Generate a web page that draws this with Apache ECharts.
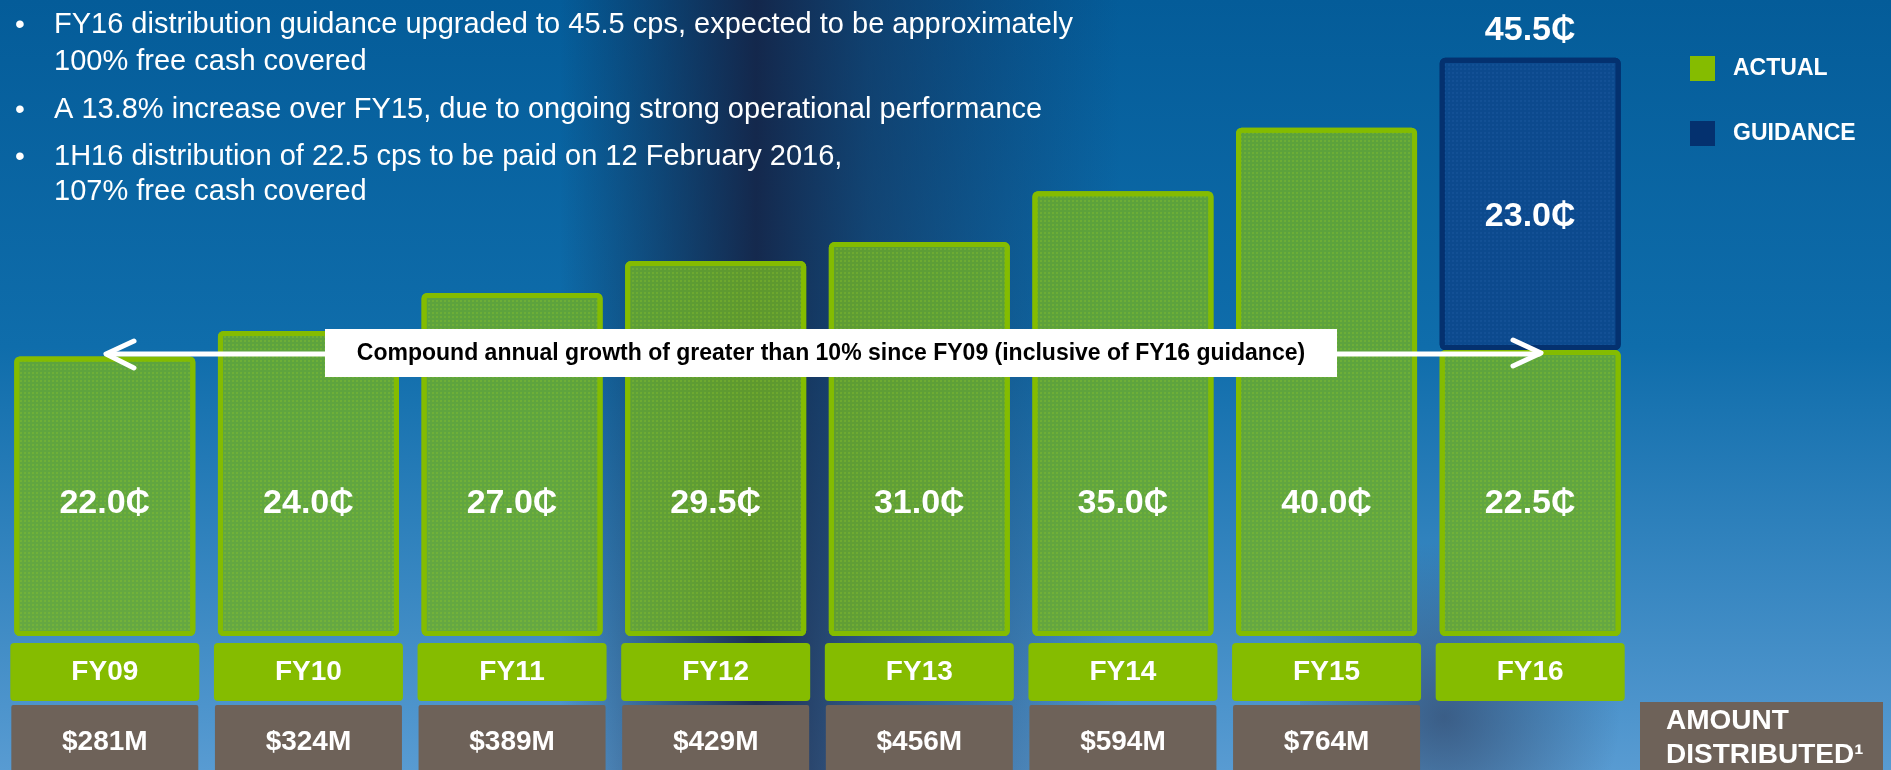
<!DOCTYPE html>
<html>
<head>
<meta charset="utf-8">
<script src="https://cdn.jsdelivr.net/npm/echarts@6/dist/echarts.min.js"></script>
<style>
    html, body { margin: 0; padding: 0; }
    #main { width: 1891px; height: 770px; }
</style>
</head>
<body>
<div id="main"></div>
<script>
    // 数据
    var categories = ['FY09', 'FY10', 'FY11', 'FY12', 'FY13', 'FY14', 'FY15', 'FY16'];
    var amounts = ['$281M', '$324M', '$389M', '$429M', '$456M', '$594M', '$764M', ''];
    var actual = [22.0, 24.0, 27.0, 29.5, 31.0, 35.0, 40.0, 22.5];
    var guidance = [null, null, null, null, null, null, null, 23.0];
    var totals = [null, null, null, null, null, null, null, 45.5];
    var bullets = [
        ['FY16 distribution guidance upgraded to 45.5 cps, expected to be approximately', '100% free cash covered'],
        ['A 13.8% increase over FY15, due to ongoing strong operational performance'],
        ['1H16 distribution of 22.5 cps to be paid on 12 February 2016,', '107% free cash covered']
    ];
    var cagrText = 'Compound annual growth of greater than 10% since FY09 (inclusive of FY16 guidance)';

    var font = "'Liberation Sans', Arial, sans-serif";
    var cents = function (v) {
        return v.toFixed(1) + '\u20B5';
    };

    var graphics = [];
    // 背景
    graphics.push({
        type: 'rect', z: -10, silent: true,
        shape: {x: 560, y: 0, width: 560, height: 770},
        style: {
            fill: new echarts.graphic.LinearGradient(0, 0, 1, 0, [
                {offset: 0, color: 'rgba(20,30,60,0)'},
                {offset: 0.35, color: 'rgba(22,30,62,0.85)'},
                {offset: 0.55, color: 'rgba(24,40,75,0.55)'},
                {offset: 1, color: 'rgba(20,40,80,0)'}
            ])
        }
    });
    graphics.push({
        type: 'rect', z: -10, silent: true,
        shape: {x: 1300, y: 420, width: 320, height: 350},
        style: {
            fill: new echarts.graphic.RadialGradient(0.45, 0.85, 0.55, [
                {offset: 0, color: 'rgba(50,70,105,0.7)'},
                {offset: 1, color: 'rgba(50,70,105,0)'}
            ])
        }
    });

    // 左上角要点
    var lineY = [[25, 62], [110], [157, 192]];
    var i, j;
    for (i = 0; i < bullets.length; i++) {
        graphics.push({
            type: 'text', z: 50, silent: true,
            style: {
                x: 20, y: lineY[i][0], text: '\u2022', fill: '#fff',
                font: '28px ' + font, align: 'center', verticalAlign: 'middle'
            }
        });
        for (j = 0; j < bullets[i].length; j++) {
            graphics.push({
                type: 'text', z: 50, silent: true,
                style: {
                    x: 54, y: lineY[i][j], text: bullets[i][j], fill: '#fff',
                    font: '29px ' + font, verticalAlign: 'middle'
                }
            });
        }
    }

    // 复合增长箭头
    var arrowStyle = {stroke: '#fff', lineWidth: 5, lineCap: 'round', lineJoin: 'round'};
    graphics.push({type: 'line', z: 60, silent: true, shape: {x1: 108, y1: 354, x2: 1539, y2: 354}, style: arrowStyle});
    graphics.push({type: 'polyline', z: 60, silent: true, shape: {points: [[134, 341], [106, 354], [134, 368]]}, style: arrowStyle});
    graphics.push({type: 'polyline', z: 60, silent: true, shape: {points: [[1513, 340], [1541, 353], [1513, 366]]}, style: arrowStyle});
    graphics.push({type: 'rect', z: 61, silent: true, shape: {x: 325, y: 329, width: 1012, height: 48}, style: {fill: '#fff'}});
    graphics.push({
        type: 'text', z: 62, silent: true,
        style: {
            x: 831, y: 354, text: cagrText, fill: '#000',
            font: 'bold 23px ' + font, align: 'center', verticalAlign: 'middle'
        }
    });

    // 分配金额说明框
    graphics.push({type: 'rect', z: 5, silent: true, shape: {x: 1640, y: 702, width: 243, height: 70}, style: {fill: '#6e6259'}});
    graphics.push({
        type: 'text', z: 6, silent: true,
        style: {x: 1666, y: 721, text: 'AMOUNT', fill: '#fff', font: 'bold 28px ' + font, verticalAlign: 'middle'}
    });
    graphics.push({
        type: 'text', z: 6, silent: true,
        style: {x: 1666, y: 755, text: 'DISTRIBUTED\u00B9', fill: '#fff', font: 'bold 28px ' + font, verticalAlign: 'middle'}
    });

    var myChart = echarts.init(document.getElementById('main'));
    var option = {
        backgroundColor: new echarts.graphic.LinearGradient(0, 0, 0, 1, [
            {offset: 0, color: '#045c99'},
            {offset: 0.45, color: '#0f6dab'},
            {offset: 1, color: '#589bd2'}
        ]),
        animation: false,
        grid: {left: 3, right: 259, top: 26, bottom: 134, outerBoundsMode: 'none'},
        legend: {
            orient: 'vertical',
            left: 1685,
            top: 51,
            itemWidth: 25,
            itemHeight: 25,
            itemGap: 40,
            icon: 'rect',
            textStyle: {color: '#fff', fontSize: 23, fontWeight: 'bold', fontFamily: font, padding: [0, 0, 0, 13]},
            data: [
                {name: 'ACTUAL', itemStyle: {color: '#85bc00', borderWidth: 0, decal: 'none'}},
                {name: 'GUIDANCE', itemStyle: {color: '#04316f', borderWidth: 0, decal: 'none'}}
            ]
        },
        xAxis: [
            {
                type: 'category',
                data: categories,
                axisLine: {show: false},
                axisTick: {show: false},
                axisLabel: {
                    interval: 0,
                    margin: 7,
                    color: '#fff',
                    fontSize: 28,
                    fontWeight: 'bold',
                    fontFamily: font,
                    backgroundColor: '#85bc00',
                    borderRadius: 4,
                    width: 189,
                    height: 58,
                    lineHeight: 58,
                    align: 'center'
                }
            },
            {
                type: 'category',
                position: 'bottom',
                data: amounts,
                axisLine: {show: false},
                axisTick: {show: false},
                axisLabel: {
                    interval: 0,
                    margin: 69,
                    formatter: function (v) {
                        return v ? '{a|' + v + '}' : '';
                    },
                    rich: {
                        a: {
                            color: '#fff',
                            fontSize: 28,
                            fontWeight: 'bold',
                            fontFamily: font,
                            backgroundColor: '#6e6259',
                            borderRadius: 2,
                            width: 187,
                            height: 74,
                            lineHeight: 74,
                            align: 'center'
                        }
                    }
                }
            }
        ],
        yAxis: {type: 'value', min: 0, max: 48, show: false},
        series: [
            {
                name: 'ACTUAL',
                type: 'bar',
                stack: 'dist',
                barWidth: 181,
                data: actual,
                itemStyle: {
                    color: 'rgba(108,174,40,0.84)',
                    borderColor: '#84bc00',
                    borderWidth: 5,
                    borderRadius: 3,
                    decal: {
                        symbol: 'rect',
                        symbolSize: 1,
                        color: 'rgba(150,205,40,0.28)',
                        dashArrayX: [2, 2],
                        dashArrayY: [2, 2]
                    }
                },
                label: {
                    show: true,
                    position: 'insideBottom',
                    distance: 115,
                    color: '#fff',
                    fontSize: 34,
                    fontWeight: 'bold',
                    fontFamily: font,
                    formatter: function (p) {
                        return cents(p.value);
                    }
                }
            },
            {
                name: 'GUIDANCE',
                type: 'bar',
                stack: 'dist',
                barWidth: 181,
                data: guidance,
                itemStyle: {
                    color: '#0c4a8e',
                    borderColor: '#04316f',
                    borderWidth: 5,
                    borderRadius: 3,
                    decal: {
                        symbol: 'rect',
                        symbolSize: 1,
                        color: 'rgba(40,100,170,0.25)',
                        dashArrayX: [2, 2],
                        dashArrayY: [2, 2]
                    }
                },
                label: {
                    show: true,
                    position: 'inside',
                    offset: [0, 13],
                    color: '#fff',
                    fontSize: 34,
                    fontWeight: 'bold',
                    fontFamily: font,
                    formatter: function (p) {
                        return cents(p.value);
                    }
                }
            },
            {
                name: 'total',
                type: 'scatter',
                symbolSize: 0,
                data: totals,
                itemStyle: {opacity: 1},
                label: {
                    show: true,
                    position: 'top',
                    distance: 10,
                    color: '#fff',
                    opacity: 1,
                    fontSize: 34,
                    fontWeight: 'bold',
                    fontFamily: font,
                    formatter: function (p) {
                        return cents(p.value);
                    }
                }
            }
        ],
        graphic: graphics
    };
    myChart.setOption(option);
</script>
</body>
</html>
